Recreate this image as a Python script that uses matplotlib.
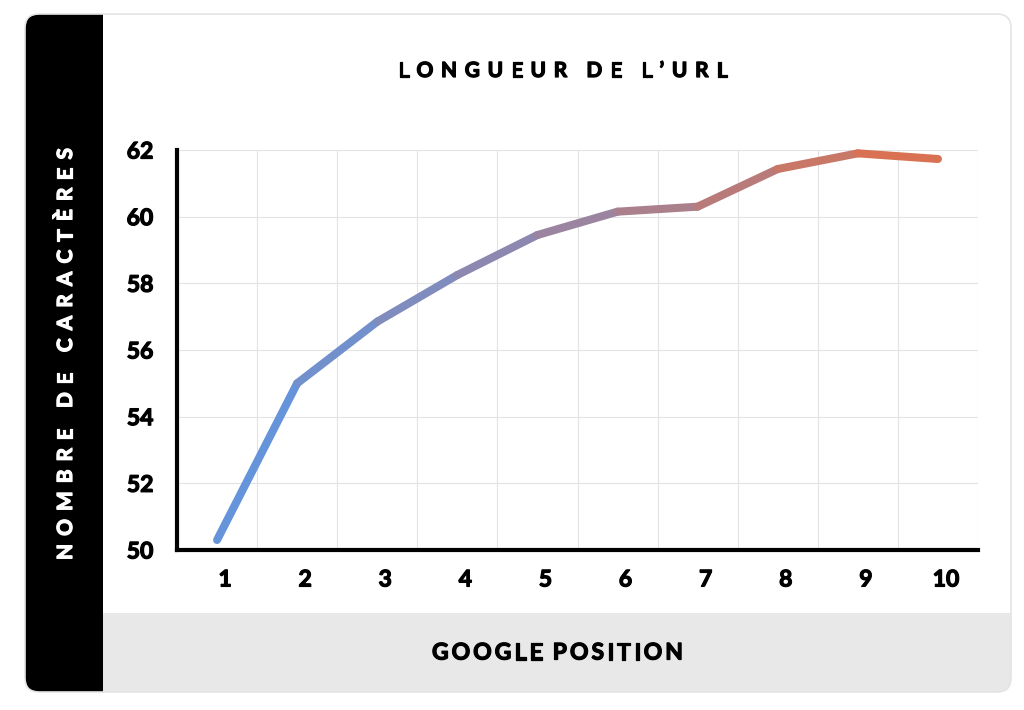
import numpy as np
import matplotlib
matplotlib.use("Agg")
import matplotlib.pyplot as plt
import matplotlib.patheffects as pe
import matplotlib.transforms as mtransforms
from matplotlib.patches import FancyBboxPatch, Rectangle
from matplotlib.collections import LineCollection
from matplotlib.colors import LinearSegmentedColormap

plt.rcParams['font.family'] = ['Lato', 'DejaVu Sans']

# data
positions = [1, 2, 3, 4, 5, 6, 7, 8, 9, 10]
url_length = [50.3, 55.0, 56.85, 58.25, 59.45, 60.15, 60.3, 61.43, 61.9, 61.73]
y_ticks = [50, 52, 54, 56, 58, 60, 62]

title = "LONGUEUR DE L\u2019URL"
ylabel = "NOMBRE DE CARACTÈRES"
xlabel = "GOOGLE POSITION"

W, H = 1024, 710
fig = plt.figure(figsize=(W / 100, H / 100), dpi=100)
fig.patch.set_facecolor("white")
renderer = fig.canvas.get_renderer()

# background layer in pixel coordinates
bg = fig.add_axes([0, 0, 1, 1])
bg.set_xlim(0, W)
bg.set_ylim(H, 0)
bg.axis("off")


def heavy(color):
    # fake a heavier weight than Lato Bold
    return [pe.withStroke(linewidth=0.9, foreground=color)]


def tracked(s, start, end, other, vertical=False, color="black", **kw):
    """lay out s letter by letter so it spans start..end (pixels)"""
    widths = []
    for ch in s:
        t = bg.text(0, 0, ch if ch != " " else "I", **kw)
        bb = t.get_window_extent(renderer)
        widths.append(bb.width * (0.6 if ch == " " else 1.0))
        t.remove()
    gap = (abs(end - start) - sum(widths)) / (len(s) - 1)
    sign = 1 if end > start else -1
    pos = start
    for ch, w in zip(s, widths):
        c = pos + sign * w / 2
        if ch != " ":
            if vertical:
                bg.text(other, c, ch, ha="center", va="center", rotation=90,
                        color=color, path_effects=heavy(color), **kw)
            else:
                bg.text(c, other, ch, ha="center", va="center",
                        color=color, path_effects=heavy(color), **kw)
        pos += sign * (w + gap)


card = FancyBboxPatch((25, 14), 986, 678, boxstyle="round,pad=0,rounding_size=14",
                      facecolor="white", edgecolor="none")
bg.add_patch(card)
black = Rectangle((25, 14), 78, 678, facecolor="black", edgecolor="none")
bg.add_patch(black)
black.set_clip_path(card)
grey = Rectangle((103, 613), 908, 79, facecolor="#e8e8e8", edgecolor="none")
bg.add_patch(grey)
grey.set_clip_path(card)
bg.add_patch(FancyBboxPatch((25, 14), 986, 678, boxstyle="round,pad=0,rounding_size=14",
                            facecolor="none", edgecolor="#e4e4e4", lw=1.2))

tracked(title, 398, 727, 71, fontsize=15, fontweight="bold")
tracked(ylabel, 560, 148, 66, vertical=True, fontsize=15, fontweight="bold",
        color="white")
tracked(xlabel, 432, 683, 653, fontsize=16.5, fontweight="bold")

# chart area
ax = fig.add_axes([177 / W, 1 - 550 / H, (978 - 177) / W, 400 / H])
ax.set_facecolor("none")
ax.set_xlim(0.5, 10.5)
ax.set_ylim(50, 62)
ax.set_xticks(positions)
ax.set_xticks(np.arange(0.5, 10.51, 0.5), minor=True)
ax.set_yticks(y_ticks)
ax.grid(True, which="minor", axis="x", color="#e3e3e3", lw=0.8)
ax.grid(True, which="major", axis="y", color="#e3e3e3", lw=0.8)
ax.set_axisbelow(True)
for s in ["top", "right"]:
    ax.spines[s].set_visible(False)
for s in ["left", "bottom"]:
    ax.spines[s].set_linewidth(3)
    ax.spines[s].set_color("black")
ax.tick_params(which="both", length=0)
ax.tick_params(axis="x", pad=14, labelsize=16.5)
ax.tick_params(axis="y", pad=17, labelsize=16.5)
shift = mtransforms.ScaledTranslation(8 / 100, 0, fig.dpi_scale_trans)
for lab in ax.get_xticklabels():
    lab.set_transform(lab.get_transform() + shift)
for lab in ax.get_xticklabels() + ax.get_yticklabels():
    lab.set_fontweight("bold")
    lab.set_path_effects(heavy("black"))

cmap = LinearSegmentedColormap.from_list("url", ["#5f96e2", "#9a84a0", "#e0704a"])
pts = np.column_stack([positions, url_length])
segs = np.stack([pts[:-1], pts[1:]], axis=1)
mids = (np.array(positions[:-1]) + np.array(positions[1:])) / 2
colors = cmap((mids - 1) / 9)
lc = LineCollection(segs, colors=colors, linewidths=5.8, capstyle="round",
                    joinstyle="round", clip_on=False, zorder=3)
ax.add_collection(lc)

fig.savefig("out.png", dpi=100, facecolor=fig.get_facecolor())
